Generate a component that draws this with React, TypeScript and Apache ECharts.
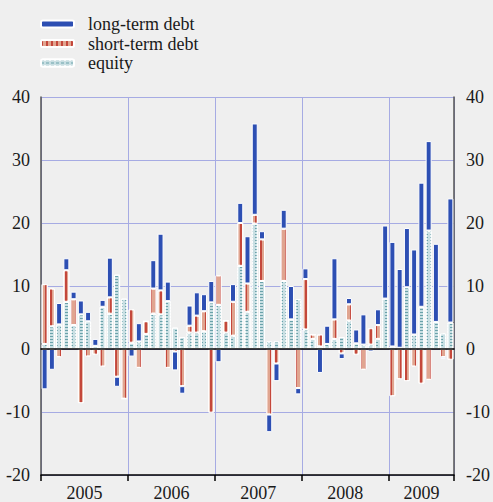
import { useEffect, useRef } from "react";
import * as echarts from "echarts";

const years = ["2005", "2006", "2007", "2008", "2009"];
const yearCenters = [6, 18, 30, 42, 52.5];
const monthsPerYear = [12, 12, 12, 12, 9];

const months: string[] = [];
years.forEach((y, yi) => {
  for (let m = 1; m <= monthsPerYear[yi]; m++) months.push(`${y}-${String(m).padStart(2, "0")}`);
});

const equity = [
  0.8, 3.6, 3.9, 7.5, 3.8, 5.5, 4.4, 0.5, 6.7, 5.6, 11.8, 8.0,
  1.0, 1.2, 2.4, 5.6, 5.5, 7.6, 3.4, 1.9, 2.6, 2.6, 2.8, 7.4,
  7.0, 2.6, 2.1, 13.2, 5.9, 19.9, 10.8, 1.2, 1.2, 10.8, 4.7, 7.9,
  3.1, 1.6, 0.4, 0.8, 1.6, 1.9, 4.5, 0.9, 0.7, 0.7, 1.6, 8.0,
  0.4, 0.2, 9.8, 2.3, 6.7, 18.8, 4.3, 2.5, 4.2,
];
const shortTermDebt = [
  9.5, 6.0, -1.3, 5.0, 4.1, -8.6, -1.2, -0.9, -2.8, 2.6, -4.4, -7.9,
  5.3, -3.0, 2.0, 4.0, 3.8, -3.0, -0.4, -5.9, 1.1, 2.7, 3.2, -10.1,
  4.7, 1.9, 5.4, 6.8, 4.5, 1.4, 6.6, -10.4, -2.3, 8.3, 0, -6.2,
  8.0, 0.7, 1.9, 0, 3.1, -0.7, 2.6, -0.9, -3.3, 2.6, 2.2, 0,
  -7.5, -4.8, -5.1, -2.8, -5.5, -4.9, 0, -1.3, -1.7,
];
const longTermDebt = [
  -6.4, -3.3, 3.4, 1.9, 1.2, 2.2, 1.5, 1.1, 1.1, 6.3, -1.6, 0,
  -1.2, 2.9, 0, 4.5, 9.0, 3.1, -3.0, -1.2, 3.2, 3.7, 2.7, 3.4,
  -2.1, 0, 2.8, 3.2, 7.5, 14.5, 1.3, -2.8, -2.8, 3.0, 5.3, -1.0,
  1.7, 0, -3.8, 2.9, 9.7, -0.9, 1.0, 2.2, 4.8, -0.4, 2.5, 11.6,
  16.6, 12.5, 9.4, 13.5, 19.7, 14.2, 12.4, -0.3, 19.7,
];

const serif = "'Liberation Serif', 'Times New Roman', serif";
const gridColor = "#a6abe3";

export default function App() {
  const ref = useRef<HTMLDivElement>(null);
  useEffect(() => {
    document.body.style.margin = "0";
    const chart = echarts.init(ref.current!, undefined, { renderer: "svg" });
    const yearStart = (i: number) => i % 12 === 0;
    const barBase = { type: "bar", stack: "total", barWidth: 6, xAxisIndex: 0, yAxisIndex: 0 };
    chart.setOption({
      animation: false,
      backgroundColor: "#efefef",
      textStyle: { fontFamily: serif },
      grid: { left: 41, right: 33, top: 97, bottom: 25, containLabel: false },
      legend: {
        left: 35,
        top: 10,
        orient: "vertical",
        itemWidth: 33,
        itemHeight: 7,
        itemGap: 1.5,
        data: ["long-term debt", "short-term debt", "equity"],
        textStyle: { fontSize: 18, fontFamily: serif, color: "#1a1a1a", padding: [0, 0, 0, 9] },
      },
      xAxis: [
        {
          type: "category",
          data: months,
          z: 5,
          axisLine: { show: true, onZero: true, lineStyle: { color: "#000", width: 1.5 } },
          axisTick: { show: false },
          axisLabel: { show: false },
          splitLine: { show: false },
        },
        {
          type: "category",
          data: months,
          position: "bottom",
          axisLine: { show: true, onZero: false, lineStyle: { color: "#000", width: 1.5 } },
          axisTick: { show: true, interval: yearStart, length: 6, lineStyle: { color: "#000", width: 1.5 } },
          axisLabel: { show: false },
          splitLine: { show: true, interval: yearStart, lineStyle: { color: gridColor, width: 1 } },
        },
        {
          type: "value",
          min: 0,
          max: 57,
          position: "bottom",
          axisLine: { show: false, onZero: false },
          axisTick: { show: false },
          splitLine: { show: false },
          axisLabel: {
            show: true,
            customValues: yearCenters,
            margin: 9,
            fontSize: 18,
            fontFamily: serif,
            color: "#1a1a1a",
            formatter: (v: number) => {
              const k = yearCenters.indexOf(v);
              return k >= 0 ? years[k] : "";
            },
          },
        },
      ],
      yAxis: [
        {
          type: "value",
          min: -20,
          max: 40,
          interval: 10,
          position: "left",
          axisLine: { show: true, lineStyle: { color: "#555", width: 1.5 } },
          axisTick: { show: false },
          axisLabel: { margin: 11, fontSize: 18, fontFamily: serif, color: "#1a1a1a" },
          splitLine: { show: true, lineStyle: { color: gridColor, width: 1 } },
        },
        {
          type: "value",
          min: -20,
          max: 40,
          interval: 10,
          position: "right",
          axisLine: { show: true, lineStyle: { color: "#555", width: 1.5 } },
          axisTick: { show: false },
          axisLabel: { margin: 12, fontSize: 18, fontFamily: serif, color: "#1a1a1a" },
          splitLine: { show: false },
        },
      ],
      series: [
        {
          ...barBase,
          name: "equity",
          data: equity,
          itemStyle: {
            color: "#c9dfe3",
            borderColor: "#ffffff",
            borderWidth: 1,
            decal: { symbol: "rect", symbolSize: 1, dashArrayX: [2.5, 1.5], dashArrayY: [1, 1.7], color: "#6aa2aa" },
          },
        },
        {
          ...barBase,
          name: "short-term debt",
          data: shortTermDebt,
          itemStyle: {
            color: "#e0a590",
            borderColor: "#ffffff",
            borderWidth: 1,
            decal: { symbol: "rect", symbolSize: 1, dashArrayX: [1.3, 2.7], dashArrayY: [5, 0], color: "#c4473b" },
          },
        },
        {
          ...barBase,
          name: "long-term debt",
          data: longTermDebt,
          itemStyle: { color: "#2d4fb3", borderColor: "#ffffff", borderWidth: 1 },
        },
      ],
    });
    return () => chart.dispose();
  }, []);
  return <div ref={ref} style={{ width: 493, height: 502 }} />;
}
